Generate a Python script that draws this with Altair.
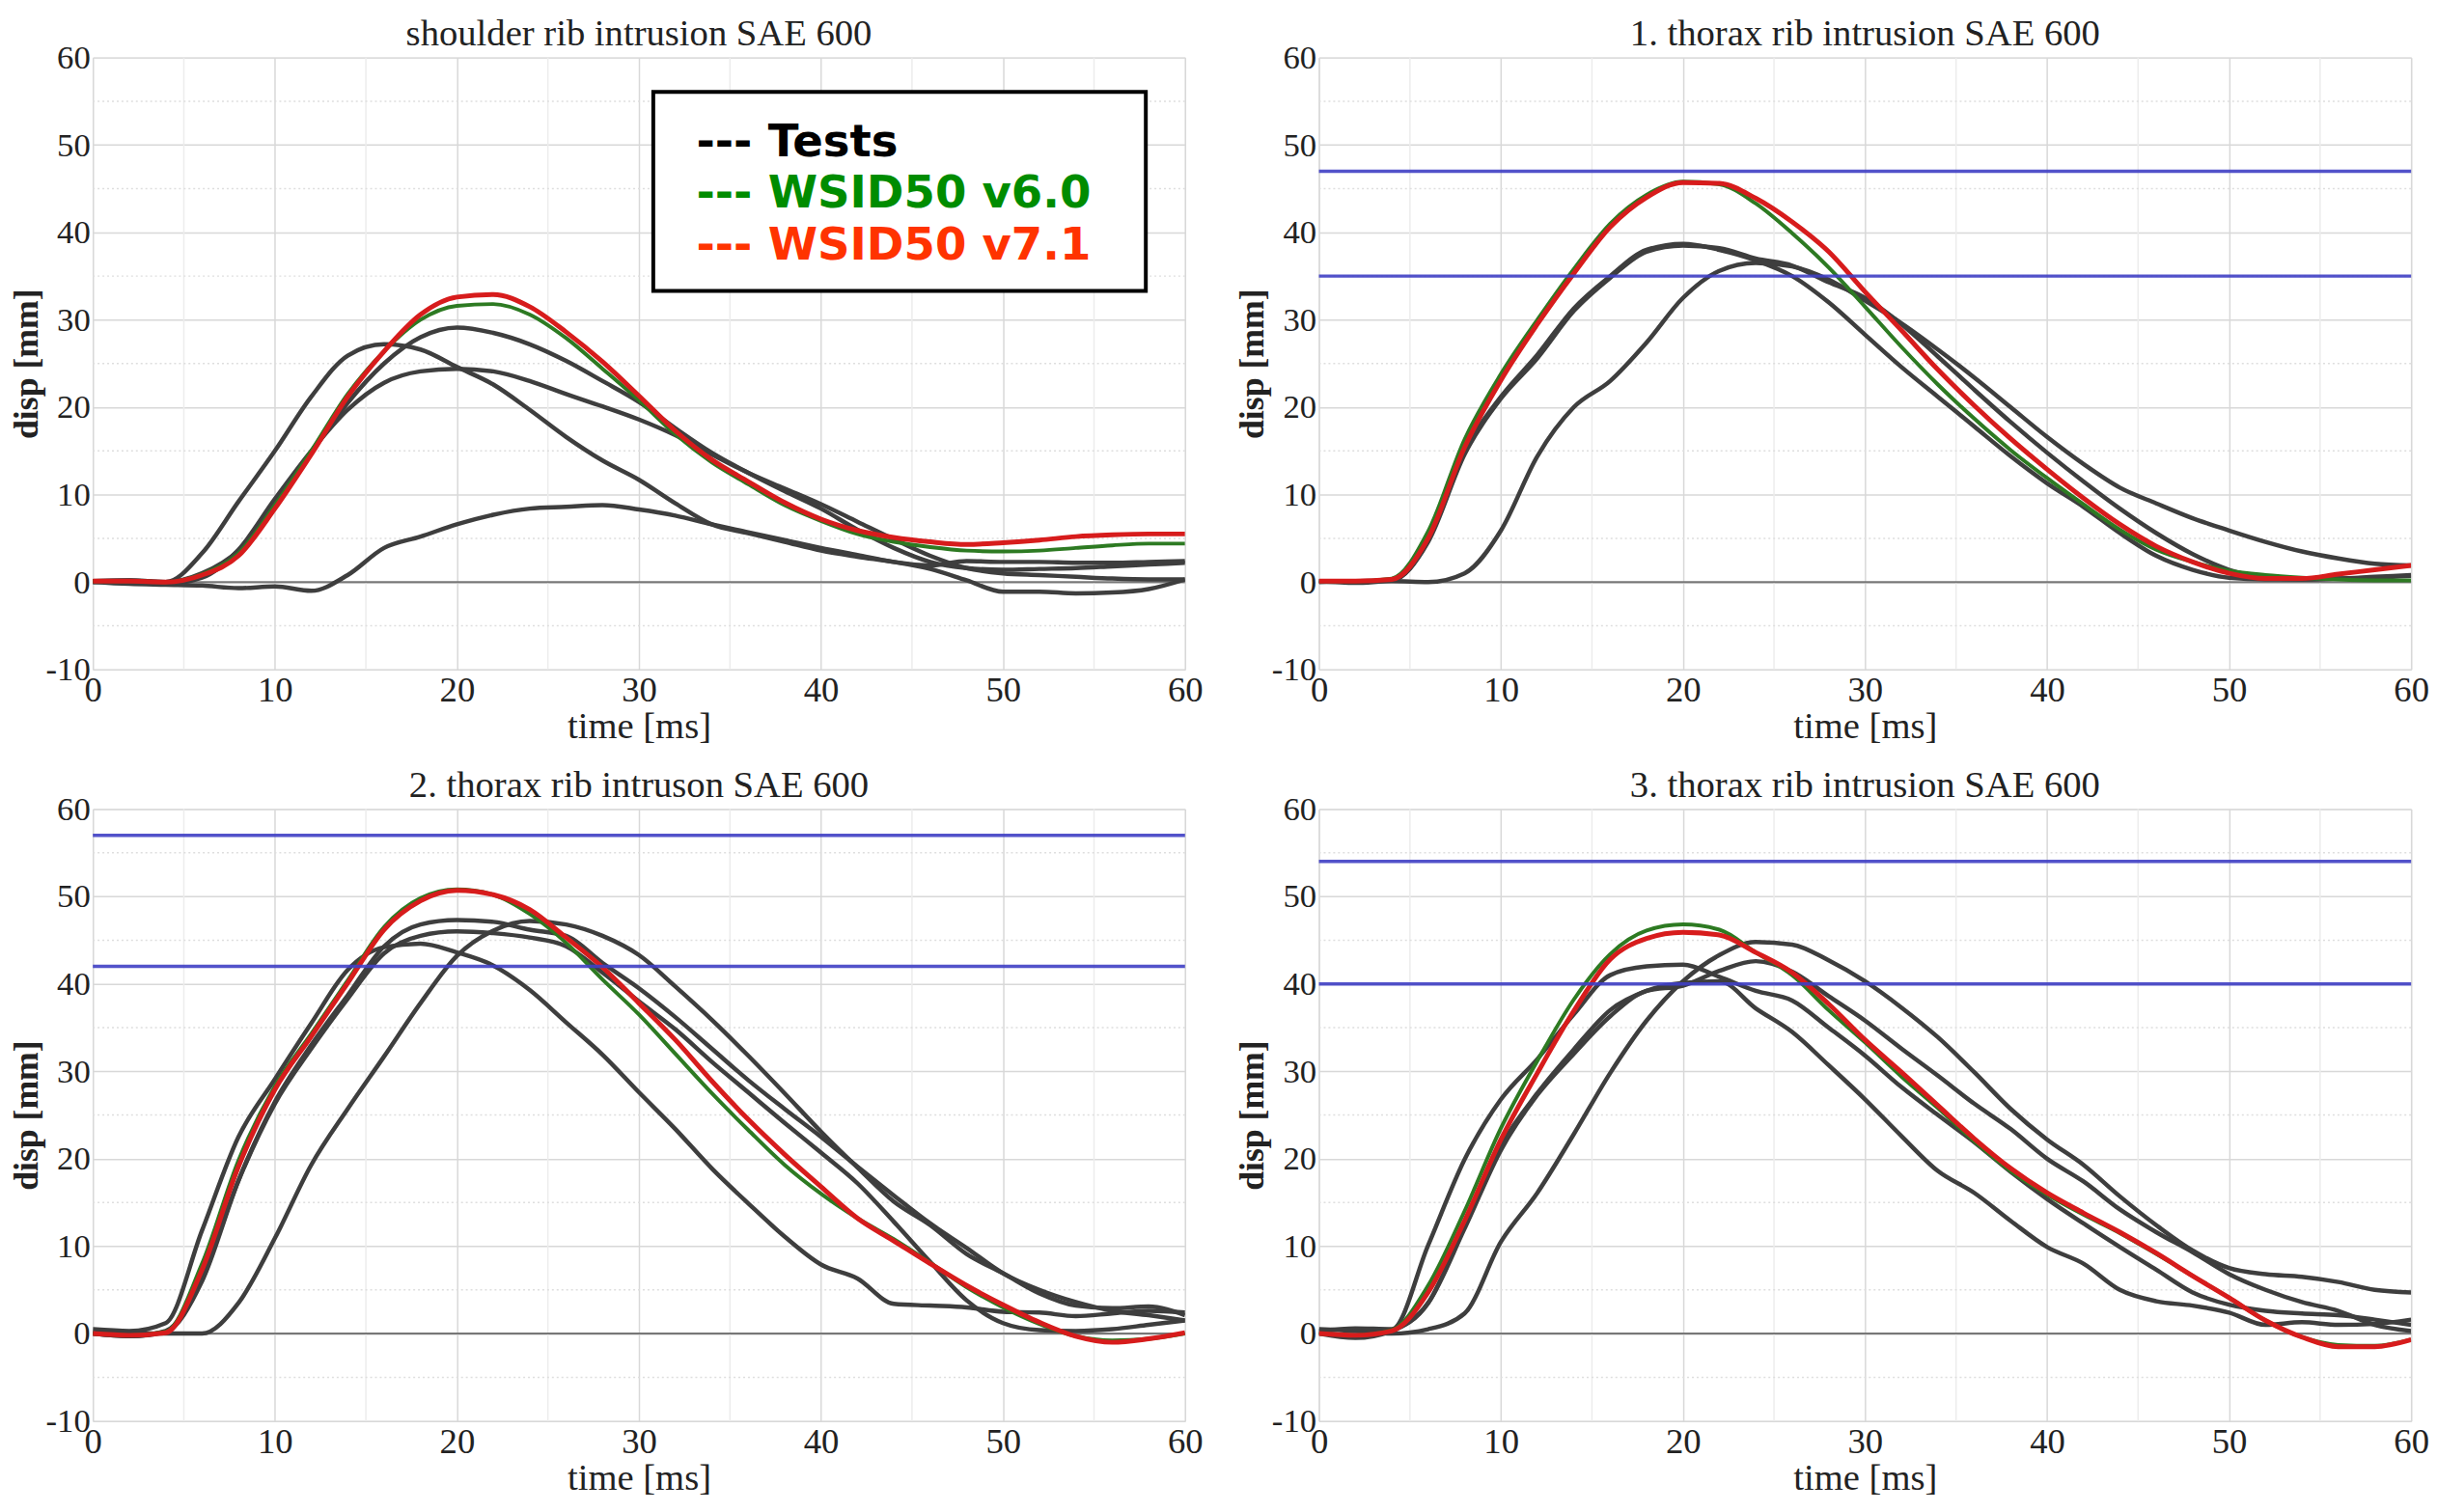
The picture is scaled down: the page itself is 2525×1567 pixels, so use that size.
import altair as alt
import pandas as pd

# ---------------- data ----------------
TIME_MS = list(range(0, 61, 2))  # 0, 2, ..., 60 ms
X_TICKS = [0, 10, 20, 30, 40, 50, 60]
Y_TICKS = [-10, 0, 10, 20, 30, 40, 50, 60]
X_MINOR = [5, 15, 25, 35, 45, 55]
Y_MINOR = [-5, 5, 15, 25, 35, 45, 55]
ZERO_LINE = [0]

TITLES = [
    "shoulder rib intrusion SAE 600",
    "1. thorax rib intrusion SAE 600",
    "2. thorax rib intruson SAE 600",
    "3. thorax rib intrusion SAE 600",
]

LEGEND_LABELS = ["--- Tests", "--- WSID50 v6.0", "--- WSID50 v7.1"]
LEGEND_COLORS = ["#000000", "#008c00", "#ff3300"]

# limit lines (blue)
P1_LIMITS = []
P2_LIMITS = [47, 35]
P3_LIMITS = [57, 42]
P4_LIMITS = [54, 40]

# panel 1: shoulder rib
P1_V60 = [0.1, 0.1, 0.0, 0.9, 3.3, 8.8, 15.0, 21.5, 26.4, 30.0, 31.6, 31.8, 30.6, 27.9, 24.4, 20.8,
          16.9, 13.7, 11.2, 8.8, 7.0, 5.5, 4.6, 4.0, 3.6, 3.5, 3.6, 3.9, 4.2, 4.4, 4.4]
P1_V71 = [0.1, 0.1, 0.0, 0.8, 3.0, 8.4, 14.6, 21.2, 26.4, 30.6, 32.6, 32.9, 31.5, 28.6, 25.2, 21.3,
          17.3, 14.0, 11.5, 9.1, 7.2, 5.9, 5.1, 4.6, 4.3, 4.5, 4.8, 5.2, 5.4, 5.5, 5.5]
P1_TEST1 = [0.1, 0.2, 0.0, 3.3, 9.2, 15.0, 21.2, 25.9, 27.2, 26.6, 24.6, 22.6, 19.7, 16.6, 13.9, 11.7,
            9.0, 6.6, 5.6, 4.6, 3.6, 2.9, 2.3, 1.5, 0.2, -1.1, -1.1, -1.3, -1.2, -0.8, 0.3]
P1_TEST2 = [0.1, 0.2, 0.0, 1.0, 3.6, 8.8, 14.8, 20.5, 25.0, 28.0, 29.1, 28.5, 27.2, 25.3, 23.0, 20.6,
            17.6, 14.8, 12.5, 10.4, 8.4, 6.0, 3.9, 2.3, 1.6, 1.4, 1.5, 1.6, 1.8, 2.0, 2.2]
P1_TEST3 = [0.0, 0.1, -0.2, 0.5, 3.7, 9.5, 15.0, 19.7, 22.8, 24.1, 24.4, 24.1, 23.0, 21.5, 20.1, 18.6,
            16.8, 14.6, 12.5, 10.7, 8.9, 6.9, 4.9, 3.0, 1.6, 1.0, 0.8, 0.6, 0.4, 0.3, 0.3]
P1_TEST4 = [0.0, -0.2, -0.3, -0.4, -0.7, -0.5, -1.0, 0.8, 3.9, 5.2, 6.6, 7.7, 8.4, 8.6, 8.8, 8.3,
            7.6, 6.6, 5.7, 4.8, 3.9, 3.1, 2.3, 1.9, 2.4, 2.3, 2.3, 2.2, 2.2, 2.3, 2.4]

# panel 2: 1. thorax rib
P2_V60 = [0.1, 0.1, 0.4, 5.8, 16.3, 23.8, 30.0, 35.8, 41.0, 44.3, 45.8, 45.5, 43.3, 39.9, 36.0, 31.5,
          26.9, 22.6, 18.7, 15.1, 11.9, 8.9, 6.0, 3.7, 2.3, 1.3, 0.8, 0.5, 0.3, 0.2, 0.2]
P2_V71 = [0.1, 0.1, 0.3, 5.0, 15.4, 23.1, 29.5, 35.3, 40.6, 44.0, 45.7, 45.6, 43.9, 41.2, 37.8, 33.2,
          28.8, 24.3, 20.2, 16.4, 12.9, 9.6, 6.6, 4.1, 2.3, 1.0, 0.4, 0.4, 0.9, 1.4, 1.9]
P2_TEST1 = [0.1, 0.1, 0.2, 4.8, 15.0, 21.2, 26.0, 31.3, 35.0, 38.0, 38.7, 38.0, 36.8, 35.0, 32.0, 28.3,
            24.6, 21.2, 17.8, 14.4, 11.3, 8.6, 5.6, 3.0, 1.4, 0.5, 0.3, 0.3, 0.4, 0.5, 0.7]
P2_TEST2 = [0.0, 0.1, 0.2, 4.6, 14.6, 21.0, 25.6, 31.0, 34.8, 37.8, 38.5, 38.2, 37.0, 36.2, 34.3, 32.5,
            29.5, 25.8, 22.0, 18.3, 14.8, 11.5, 8.4, 5.6, 3.2, 1.4, 0.5, 0.3, 0.4, 0.6, 0.8]
P2_TEST3 = [0.1, -0.1, 0.1, 0.0, 1.0, 5.9, 14.4, 20.0, 23.0, 27.4, 32.5, 35.6, 36.5, 36.1, 34.6, 32.2,
            29.6, 26.6, 23.4, 20.0, 16.6, 13.5, 10.8, 9.0, 7.3, 5.9, 4.6, 3.5, 2.7, 2.1, 1.9]

# panel 3: 2. thorax rib
P3_V60 = [0.0, -0.2, 0.2, 8.0, 19.8, 28.3, 34.3, 40.4, 46.5, 49.8, 50.8, 50.2, 48.0, 44.7, 40.5, 36.5,
          32.0, 27.5, 23.3, 19.3, 16.0, 13.2, 10.8, 8.1, 5.3, 3.0, 1.1, -0.3, -0.8, -0.6, 0.0]
P3_V71 = [0.0, -0.2, 0.1, 7.3, 19.1, 27.9, 34.0, 40.1, 46.2, 49.5, 50.7, 50.2, 48.5, 45.3, 41.9, 37.8,
          33.6, 28.9, 24.5, 20.5, 16.8, 13.2, 10.6, 8.0, 5.5, 3.3, 1.3, -0.3, -1.0, -0.6, 0.1]
P3_TEST1 = [0.5, 0.3, 1.2, 11.8, 22.5, 29.1, 35.5, 41.6, 44.2, 44.6, 43.6, 42.1, 39.3, 35.6, 31.9, 27.6,
            23.4, 18.9, 14.9, 11.1, 7.9, 6.3, 3.4, 3.2, 3.0, 2.5, 2.4, 2.0, 2.3, 2.6, 2.4]
P3_TEST2 = [0.0, -0.3, 0.2, 6.0, 17.5, 26.5, 33.0, 38.7, 44.3, 46.8, 47.3, 47.1, 46.2, 45.5, 42.4, 39.5,
            36.2, 32.6, 29.0, 25.7, 22.5, 19.1, 15.8, 12.6, 9.8, 6.9, 5.0, 3.6, 2.6, 2.1, 1.5]
P3_TEST3 = [0.0, 0.1, 0.0, 0.0, 3.5, 10.9, 19.3, 25.7, 31.7, 37.8, 43.2, 46.1, 47.2, 46.8, 45.5, 43.3,
            39.7, 35.9, 31.8, 27.5, 23.1, 19.0, 15.1, 12.4, 9.1, 6.9, 4.6, 3.2, 2.9, 3.1, 2.1]
P3_TEST4 = [0.0, -0.3, 0.3, 6.5, 17.5, 26.3, 32.6, 38.3, 43.5, 45.5, 46.0, 45.8, 45.3, 44.3, 41.3, 38.0,
            34.8, 31.1, 27.6, 24.1, 20.7, 17.2, 12.8, 8.2, 3.8, 1.2, 0.4, 0.3, 0.5, 1.0, 1.5]

# panel 4: 3. thorax rib
P4_V60 = [0.0, -0.2, 0.4, 5.5, 14.0, 23.5, 31.2, 38.2, 43.4, 46.1, 46.8, 46.2, 43.6, 41.0, 37.0, 33.3,
          29.4, 25.8, 22.0, 18.6, 15.9, 13.6, 11.5, 9.1, 6.6, 4.1, 1.5, -0.4, -1.3, -1.4, -0.7]
P4_V71 = [0.0, -0.2, 0.3, 4.7, 12.9, 22.2, 29.8, 36.9, 42.8, 45.2, 45.9, 45.6, 43.6, 41.3, 37.7, 33.6,
          29.9, 26.1, 22.3, 18.9, 16.1, 13.8, 11.6, 9.2, 6.6, 4.1, 1.5, -0.4, -1.5, -1.5, -0.7]
P4_TEST1 = [0.3, 0.6, 0.5, 10.1, 19.9, 26.8, 31.4, 36.5, 41.0, 42.0, 42.2, 40.8, 39.2, 38.1, 35.0, 31.8,
            28.2, 25.0, 21.9, 18.5, 15.4, 12.6, 9.9, 7.3, 4.7, 3.3, 2.6, 2.3, 2.1, 1.6, 1.0]
P4_TEST2 = [0.0, -0.5, 0.3, 3.5, 12.4, 21.5, 27.5, 32.5, 37.0, 39.2, 40.1, 40.3, 37.2, 34.5, 30.7, 26.8,
            22.6, 18.6, 16.1, 12.9, 9.9, 8.0, 5.0, 3.7, 3.2, 2.4, 1.0, 1.3, 1.0, 1.1, 1.6]
P4_TEST3 = [0.2, -0.3, 0.4, 3.5, 12.0, 21.0, 27.3, 32.0, 36.3, 39.2, 39.8, 41.5, 42.6, 41.4, 38.6, 35.8,
            32.6, 29.5, 26.3, 23.4, 20.0, 17.4, 14.2, 11.6, 9.3, 6.8, 5.0, 3.6, 2.6, 1.0, 0.3]
P4_TEST4 = [0.5, 0.3, 0.0, 0.5, 2.3, 10.5, 16.1, 22.8, 29.8, 35.8, 40.3, 43.3, 44.8, 44.5, 42.7, 40.3,
            37.3, 33.9, 29.9, 25.7, 22.2, 19.3, 15.7, 12.4, 9.5, 7.5, 6.8, 6.5, 5.9, 5.0, 4.7]

# ---------------- styling ----------------
SERIF = "Liberation Serif"
PANEL_W = 1142
PANEL_H = 640
GRAY = "#3e3e3e"
GREEN = "#2d7a22"
RED = "#d71c1c"
BLUE = "#3f3fc4"

XS = alt.Scale(domain=[0, 60], nice=False, zero=False)
YS = alt.Scale(domain=[-10, 60], nice=False, zero=False)

XA = alt.Axis(values=X_TICKS, title="time [ms]", labelExpr="'' + datum.value",
              labelFont=SERIF, labelFontSize=37,
              titleFont=SERIF, titleFontSize=39, titleFontWeight="normal",
              labelPadding=4, titlePadding=0, labelFlush=False, labelOverlap=False,
              ticks=False, domain=False, grid=True, gridColor="#d8d8d8", gridWidth=1.5,
              labelColor="#222222", titleColor="#222222")
YA = alt.Axis(values=Y_TICKS, title="disp [mm]", labelExpr="'' + datum.value",
              labelFont=SERIF, labelFontSize=35,
              titleFont=SERIF, titleFontSize=36, titleFontWeight="bold",
              labelPadding=3, titlePadding=1, labelFlush=False, labelOverlap=False,
              ticks=False, domain=False, grid=True, gridColor="#d8d8d8", gridWidth=1.5,
              labelColor="#222222", titleColor="#222222")

X_ENC = alt.X("time:Q", scale=XS, axis=XA)
Y_ENC = alt.Y("disp:Q", scale=YS, axis=YA)


def build_panel(title, tests, v60, v71, limits, with_legend=False):
    rows = []
    for i, vals in enumerate(tests):
        for t, v in zip(TIME_MS, vals):
            rows.append({"time": t, "disp": v, "curve": f"Test {i + 1}"})
    tests_df = pd.DataFrame(rows)
    v60_df = pd.DataFrame({"time": TIME_MS, "disp": v60})
    v71_df = pd.DataFrame({"time": TIME_MS, "disp": v71})

    layers = [
        alt.Chart(pd.DataFrame({"time": X_MINOR})).mark_rule(
            color="#ececec", strokeWidth=1.5).encode(x=X_ENC),
        alt.Chart(pd.DataFrame({"disp": Y_MINOR})).mark_rule(
            color="#dedede", strokeWidth=1.5, strokeDash=[2, 3]).encode(y=Y_ENC),
        alt.Chart(pd.DataFrame({"disp": ZERO_LINE})).mark_rule(
            color="#777777", strokeWidth=2).encode(y=Y_ENC),
        alt.Chart(tests_df).mark_line(
            color=GRAY, strokeWidth=4.5, interpolate="monotone", clip=True).encode(
            x=X_ENC, y=Y_ENC, detail="curve:N"),
        alt.Chart(v60_df).mark_line(
            color=GREEN, strokeWidth=4, interpolate="monotone", clip=True).encode(
            x=X_ENC, y=Y_ENC),
        alt.Chart(v71_df).mark_line(
            color=RED, strokeWidth=5, interpolate="monotone", clip=True).encode(
            x=X_ENC, y=Y_ENC),
    ]
    if limits:
        layers.append(
            alt.Chart(pd.DataFrame({"disp": limits})).mark_rule(
                color=BLUE, strokeWidth=3.5, opacity=0.9).encode(y=Y_ENC))
    if with_legend:
        one = pd.DataFrame({"k": [0]})
        layers.append(
            alt.Chart(one).mark_rect(fill="white", stroke="black", strokeWidth=4).encode(
                x=alt.value(586), x2=alt.value(1101), y=alt.value(36), y2=alt.value(244)))
        for i, (lab, col) in enumerate(zip(LEGEND_LABELS, LEGEND_COLORS)):
            layers.append(
                alt.Chart(one).mark_text(
                    text=lab, color=col, font="DejaVu Sans", fontWeight="bold",
                    fontSize=47, align="left", baseline="alphabetic").encode(
                    x=alt.value(631), y=alt.value(103 + 54 * i)))

    return alt.layer(*layers).properties(
        width=PANEL_W, height=PANEL_H,
        title=alt.TitleParams(text=title, font=SERIF, fontSize=39, fontWeight="normal",
                              color="#222222", offset=-12, anchor="middle"))


p1 = build_panel(TITLES[0], [P1_TEST1, P1_TEST2, P1_TEST3, P1_TEST4], P1_V60, P1_V71,
                 P1_LIMITS, with_legend=True)
p2 = build_panel(TITLES[1], [P2_TEST1, P2_TEST2, P2_TEST3], P2_V60, P2_V71, P2_LIMITS)
p3 = build_panel(TITLES[2], [P3_TEST1, P3_TEST2, P3_TEST3, P3_TEST4], P3_V60, P3_V71, P3_LIMITS)
p4 = build_panel(TITLES[3], [P4_TEST1, P4_TEST2, P4_TEST3, P4_TEST4], P4_V60, P4_V71, P4_LIMITS)

chart = alt.vconcat(
    alt.hconcat(p1, p2, spacing=32),
    alt.hconcat(p3, p4, spacing=32),
    spacing=21,
    padding={"left": 0, "top": 0, "right": 0, "bottom": 0},
).configure_axis(
    labelFont=SERIF, titleFont=SERIF
).configure_view(
    stroke="#8c8c8c", strokeWidth=2.5
).configure(background="white")

chart.save("out.html", embed_options={"renderer": "svg", "actions": False})
